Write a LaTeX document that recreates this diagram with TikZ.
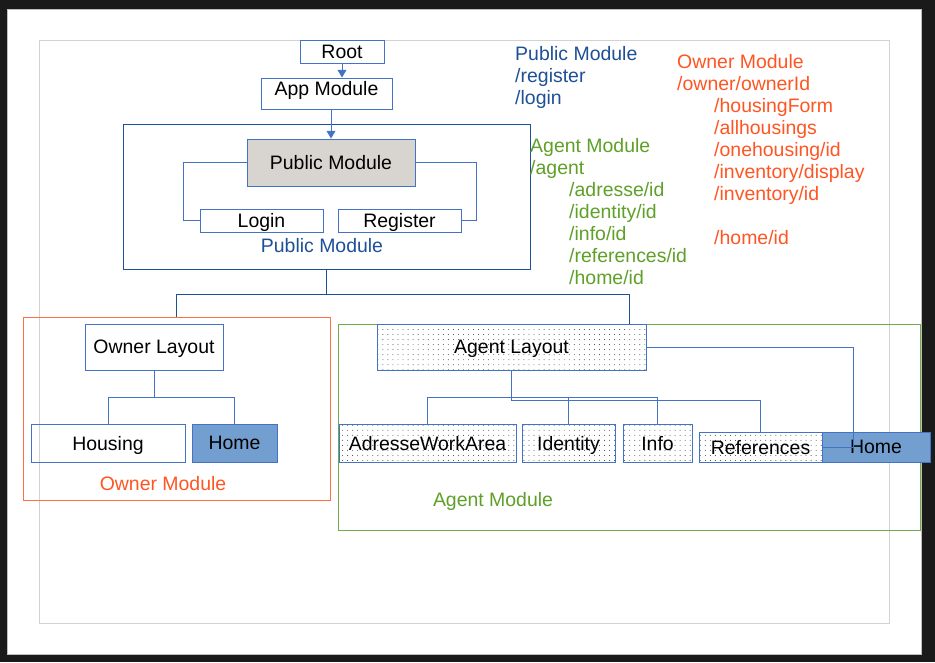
\documentclass[tikz,border=0pt]{standalone}
\usepackage{fontspec}
\setmainfont{Liberation Sans}
\usetikzlibrary{arrows.meta, patterns}
\definecolor{boxblue}{RGB}{68,114,196}
\definecolor{pubblue}{RGB}{30,80,150}
\definecolor{ownerred}{RGB}{255,85,35}
\definecolor{agentgreen}{RGB}{95,160,40}
\definecolor{agentframe}{RGB}{112,173,71}
\definecolor{homefill}{RGB}{114,159,207}
\definecolor{pubfill}{RGB}{216,213,209}
\definecolor{pagedark}{RGB}{26,26,26}
\pgfdeclarepatternformonly{sparse dots}{\pgfqpoint{-1pt}{-1pt}}{\pgfqpoint{1pt}{1pt}}{\pgfqpoint{4.3pt}{4.3pt}}%
  {\pgfpathcircle{\pgfqpoint{0pt}{0pt}}{0.4pt}\pgfusepath{fill}}

\begin{document}
\begin{tikzpicture}[x=0.03cm, y=-0.03cm,
    box/.style={rectangle, draw=boxblue, line width=0.8pt, inner sep=0pt, text depth=0pt,
                align=center, font=\fontsize{16.6}{18.8}\selectfont},
    dotbox/.style={box, pattern=sparse dots, pattern color=black!80},
    modframe/.style={rectangle, draw, line width=0.75pt, inner sep=0pt},
    route/.style={font=\fontsize{16.6}{18.8}\selectfont, align=left,
                  anchor=north west, inner sep=0pt},
    tag/.style={font=\fontsize{16.6}{18.8}\selectfont, inner sep=0pt},
    link/.style={draw=boxblue, line width=0.8pt}]

    % page
    \fill[pagedark] (0,0) rectangle (935,662);
    \fill[white, draw=gray!50] (7,9) rectangle (921,654);
    \draw[gray!35, line width=0.8pt] (39,40) rectangle (889,623);

    % top
    \node[box, minimum width=2.52cm, minimum height=0.69cm] (root) at (342,51.5) {Root};
    \node[box, minimum width=3.93cm, minimum height=0.93cm, text depth=0.3cm] (app) at (326.5,93.5) {App Module};

    % public module
    \node[modframe, draw=pubblue, minimum width=12.21cm, minimum height=4.35cm] (pubframe) at (326.5,196.5) {};
    \node[box, fill=pubfill, minimum width=5.04cm, minimum height=1.41cm] (pubmod) at (331,162.5) {Public Module};
    \node[box, minimum width=3.69cm, minimum height=0.69cm] (login) at (261.5,220.5) {Login};
    \node[box, minimum width=3.69cm, minimum height=0.69cm] (register) at (399.5,220.5) {Register};
    \node[tag, text=pubblue] (publabel) at (322,246) {Public Module};

    % owner module
    \node[modframe, draw=ownerred!85, minimum width=9.21cm, minimum height=5.49cm] (ownerframe) at (176.5,408.5) {};
    \node[box, minimum width=4.14cm, minimum height=1.38cm] (ownerlayout) at (154,347) {Owner Layout};
    \node[box, minimum width=4.62cm, minimum height=1.14cm] (housing) at (108,443) {Housing};
    \node[box, fill=homefill, minimum width=2.55cm, minimum height=1.14cm] (ownerhome) at (234.5,443) {Home};
    \node[tag, text=ownerred] (ownerlabel) at (163,484) {Owner Module};

    % agent module
    \node[modframe, draw=agentframe, minimum width=17.46cm, minimum height=6.18cm] (agentframe) at (629,427) {};
    \node[dotbox, minimum width=8.07cm, minimum height=1.38cm] (agentlayout) at (511.5,347) {Agent Layout};
    \node[dotbox, minimum width=5.31cm, minimum height=1.14cm] (adresse) at (427.5,443) {AdresseWorkArea};
    \node[dotbox, minimum width=2.79cm, minimum height=1.14cm] (identity) at (568.5,443) {Identity};
    \node[dotbox, minimum width=2.07cm, minimum height=1.14cm] (info) at (657.5,443) {Info};
    \node[dotbox, minimum width=3.69cm, minimum height=0.9cm] (references) at (760.5,447) {References};
    \node[box, fill=homefill, minimum width=3.24cm, minimum height=0.9cm] (agenthome) at (876,447) {Home};
    \node[tag, text=agentgreen] (agentlabel) at (493,501) {Agent Module};

    % routes
    \node[route, text=pubblue] (pubroutes) at (515,46) {Public Module\\/register\\/login};
    \node[route, text=ownerred] (ownerroutes) at (677,54) {Owner Module\\/owner/ownerId\\
        \hspace*{1.11cm}/housingForm\\\hspace*{1.11cm}/allhousings\\
        \hspace*{1.11cm}/onehousing/id\\\hspace*{1.11cm}/inventory/display\\
        \hspace*{1.11cm}/inventory/id\\[18.8pt]\hspace*{1.11cm}/home/id};
    \node[route, text=agentgreen] (agentroutes) at (530,138) {Agent Module\\/agent\\
        \hspace*{1.17cm}/adresse/id\\\hspace*{1.17cm}/identity/id\\
        \hspace*{1.17cm}/info/id\\\hspace*{1.17cm}/references/id\\
        \hspace*{1.17cm}/home/id};

    % connectors
    \draw[link, -{Triangle[width=7.5pt, length=6.5pt]}] (root.south) -- (root.south |- app.north);
    \draw[link, -{Triangle[width=7.5pt, length=6.5pt]}] (pubmod.north |- app.south) -- (pubmod.north);
    \draw[link] (pubmod.west) -- ++(-63,0) |- (login.west);
    \draw[link] (pubmod.east) -- ++(61,0) |- (register.east);
    \draw[link, draw=pubblue] (pubframe.south) -- ++(0,25) coordinate (bus);
    \draw[link, draw=pubblue] (bus) -| (ownerframe.north);
    \draw[link, draw=pubblue] (bus) -| (agentframe.north);

    \draw[link] (ownerlayout.south) -- ++(0,27) coordinate (ownerbus);
    \draw[link] (ownerbus) -| (housing.north);
    \draw[link] (ownerbus) -| (ownerhome.north);

    \draw[link] (agentlayout.south) -- ++(0,27) coordinate (agentbus);
    \draw[link] (agentbus) -| (adresse.north);
    \draw[link] (agentbus) -| (identity.north);
    \draw[link] (agentbus) -| (info.north);
    \draw[link] (agentlayout.south) -- ++(0,30) -| (references.north);
    \draw[link] (agentlayout.east) -- ++(207,0) |- (agenthome.west);
\end{tikzpicture}
\end{document}
